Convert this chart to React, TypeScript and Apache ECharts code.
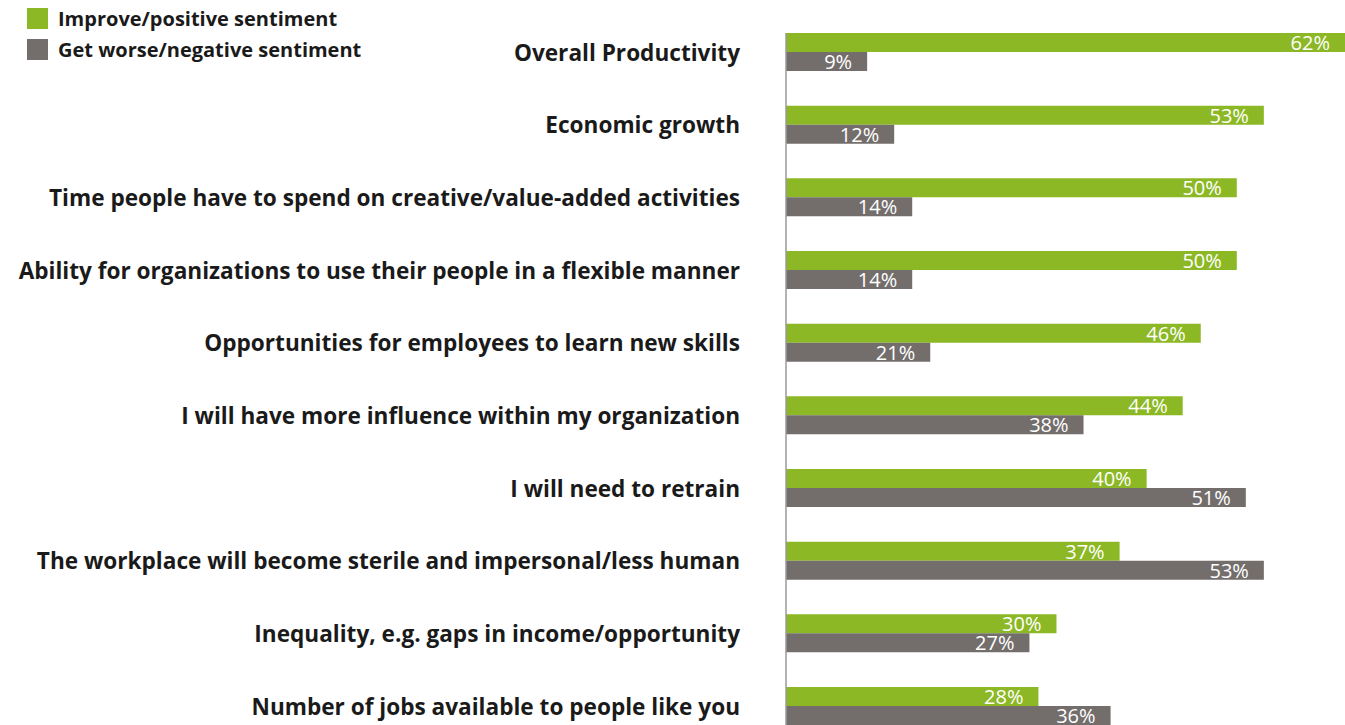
import React, { useEffect, useRef } from "react";
import * as echarts from "echarts";

const categories = [
  "Overall Productivity",
  "Economic growth",
  "Time people have to spend on creative/value-added activities",
  "Ability for organizations to use their people in a flexible manner",
  "Opportunities for employees to learn new skills",
  "I will have more influence within my organization",
  "I will need to retrain",
  "The workplace will become sterile and impersonal/less human",
  "Inequality, e.g. gaps in income/opportunity",
  "Number of jobs available to people like you",
];
// Bar lengths as drawn in the reference
const positive = [62, 53, 50, 50, 46, 44, 40, 37, 30, 28];
const negative = [9, 12, 14, 14, 16, 33, 51, 53, 27, 36];
// Labels as printed in the reference (two grey bars are drawn shorter than printed)
const positiveLabels = [62, 53, 50, 50, 46, 44, 40, 37, 30, 28];
const negativeLabels = [9, 12, 14, 14, 21, 38, 51, 53, 27, 36];
const seriesNames = ["Improve/positive sentiment", "Get worse/negative sentiment"];

const GREEN = "#8cb825";
const GREY = "#736e6c";
const FONT = "'Open Sans', 'Noto Sans', sans-serif";

export default function App() {
  const ref = useRef<HTMLDivElement>(null);
  useEffect(() => {
    if (!ref.current) return;
    const chart = echarts.init(ref.current, undefined, { renderer: "svg" });
    const makeLabel = (texts: number[]) => ({
      show: true,
      position: "insideRight",
      distance: 15,
      color: "#ffffff",
      fontFamily: FONT,
      fontSize: 20,
      formatter: (p: any) => texts[p.dataIndex] + "%",
    });
    chart.setOption({
      animation: false,
      legend: {
        orient: "vertical",
        left: 27,
        top: 8,
        padding: 0,
        itemWidth: 21,
        itemHeight: 21,
        itemGap: 10,
        icon: "rect",
        textStyle: {
          fontFamily: FONT,
          fontWeight: "bold",
          fontSize: 20,
          color: "#1a1a1a",
          padding: [0, 0, 0, 5],
        },
        data: seriesNames,
      },
      grid: { left: 786, top: 15.67, width: 559, height: 726.67, containLabel: false },
      xAxis: { type: "value", min: 0, max: 62, show: false },
      yAxis: {
        type: "category",
        inverse: true,
        data: categories,
        axisLine: { show: false },
        axisTick: { show: false },
        axisLabel: {
          margin: 46,
          fontFamily: FONT,
          fontWeight: "bold",
          fontSize: 22.6,
          color: "#1a1a1a",
        },
      },
      series: [
        {
          name: seriesNames[0],
          type: "bar",
          data: positive,
          barWidth: 19,
          barGap: "0%",
          itemStyle: { color: GREEN },
          label: makeLabel(positiveLabels),
        },
        {
          name: seriesNames[1],
          type: "bar",
          data: negative,
          barWidth: 19,
          barGap: "0%",
          itemStyle: { color: GREY },
          label: makeLabel(negativeLabels),
        },
      ],
    });
    const x0 = chart.convertToPixel({ xAxisIndex: 0 }, 0) as number;
    const yTop = (chart.convertToPixel({ yAxisIndex: 0 }, categories[0]) as number) - 19;
    const yBot = (chart.convertToPixel({ yAxisIndex: 0 }, categories[categories.length - 1]) as number) + 19;
    chart.setOption({
      graphic: [
        {
          type: "line",
          z: 10,
          shape: { x1: x0, y1: yTop, x2: x0, y2: yBot + 1 },
          style: { stroke: "#9a9a9a", lineWidth: 1.5 },
        },
      ],
    });
    return () => chart.dispose();
  }, []);
  return (
    <div
      ref={ref}
      style={{ position: "absolute", left: 0, top: 0, width: 1345, height: 745 }}
    />
  );
}
